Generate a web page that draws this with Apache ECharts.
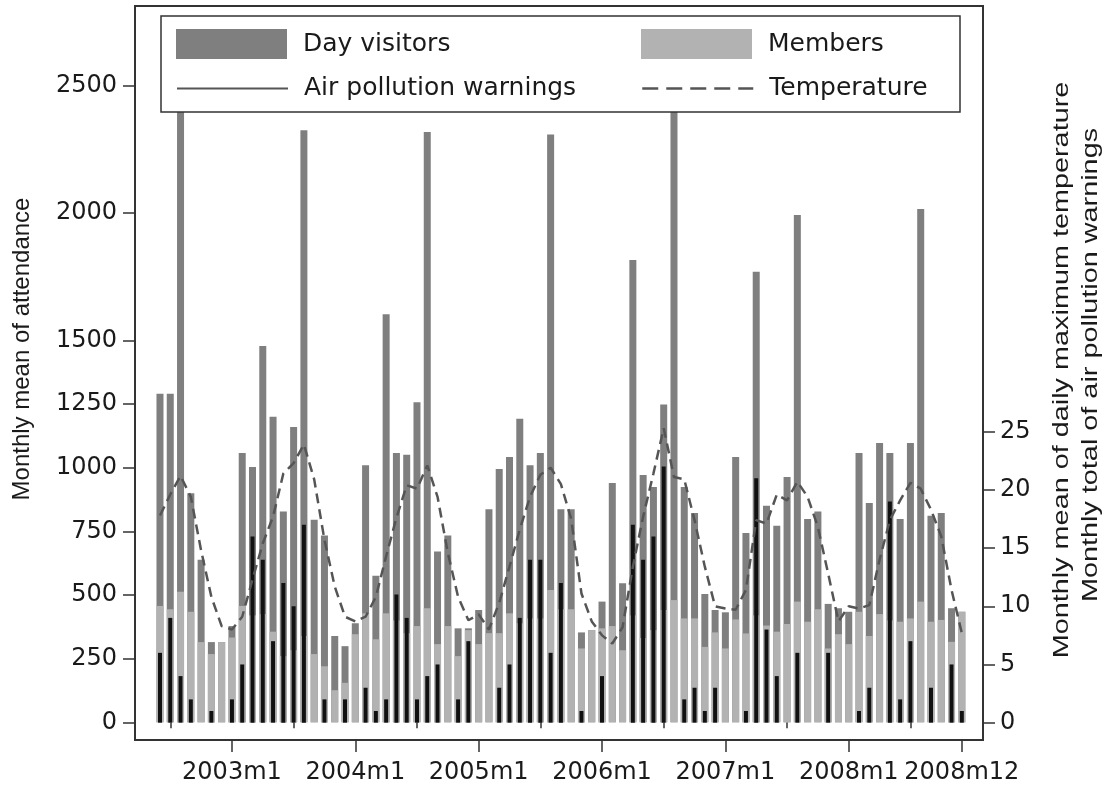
<!DOCTYPE html>
<html>
<head>
<meta charset="utf-8">
<script src="https://cdn.jsdelivr.net/npm/echarts@6.0.0/dist/echarts.min.js"></script>
<style>
  html, body { margin: 0; background: #fff; }
  #chart { width: 1110px; height: 786px; }
</style>
</head>
<body>
<div id="chart"></div>
<script>
// monthly series, index 0 = 2002m6 ... index 78 = 2008m12
const members = [
  457, 444, 513, 434, 315, 268, 315, 333, 457, 420, 425, 356, 260, 283, 339, 268, 220, 126, 155, 346,
  428, 326, 428, 400, 350, 378, 448, 307, 378, 260, 362, 307, 350, 350, 428, 389, 408, 408, 520, 444,
  444, 290, 362, 369, 378, 283, 420, 331, 362, 441, 480, 408, 408, 296, 353, 290, 404, 349, 420, 380,
  356, 386, 474, 395, 444, 290, 346, 307, 434, 339, 425, 400, 395, 408, 474, 395, 402, 316, 434
];
const dayVisitors = [
  833, 846, 2237, 466, 323, 47, 0, 45, 601, 583, 1053, 844, 568, 877, 1986, 527, 514, 213, 144, 43,
  581, 250, 1174, 658, 701, 879, 1870, 364, 356, 109, 7, 134, 487, 645, 614, 803, 601, 650, 1788, 393,
  393, 63, 0, 105, 562, 263, 1396, 640, 562, 807, 2270, 516, 414, 208, 88, 142, 638, 394, 1349, 470,
  416, 577, 1518, 403, 384, 175, 102, 127, 624, 522, 672, 658, 403, 689, 1542, 416, 420, 132, 0
];
const pollutionWarnings = [
  6, 9, 4, 2, 0, 1, 0, 2, 5, 16, 14, 7, 12, 10, 17, 0, 2, 0, 2, 0,
  3, 1, 2, 11, 9, 2, 4, 5, 0, 2, 7, 0, 0, 3, 5, 9, 14, 14, 6, 12,
  0, 1, 0, 4, 0, 0, 17, 14, 16, 22, 0, 2, 3, 1, 3, 0, 0, 1, 21, 8,
  4, 0, 6, 0, 0, 6, 0, 0, 1, 3, 0, 19, 2, 7, 0, 3, 0, 5, 1
];
const temperature = [
  17.8, 19.6, 21.2, 19.4, 14.8, 10.8, 8.3, 8.0, 9.1, 12.3, 15.4, 17.7, 21.4, 22.3, 23.9, 20.9, 15.7, 11.7, 9.1, 8.7,
  9.1, 10.8, 14.3, 17.6, 20.4, 20.1, 22.1, 19.4, 14.6, 10.8, 8.8, 9.3, 8.0, 10.3, 13.4, 16.6, 19.4, 21.3, 21.9, 20.5,
  17.5, 11.1, 8.7, 7.5, 6.8, 8.2, 13.4, 17.7, 21.4, 25.3, 21.1, 20.9, 17.4, 13.4, 10.0, 9.8, 9.7, 11.4, 17.4, 17.1,
  19.6, 19.1, 20.7, 19.4, 16.8, 12.8, 8.7, 10.0, 9.8, 10.1, 14.0, 17.4, 19.1, 20.6, 20.1, 18.3, 16.0, 11.4, 7.7
];

const xTickIndex = [7, 19, 31, 43, 55, 67, 78];
const xTickLabels = ['2003m1', '2004m1', '2005m1', '2006m1', '2007m1', '2008m1', '2008m12'];
const xMinorTickIndex = [1, 13, 25, 37, 49, 61, 73];
const attendanceTicks = [0, 250, 500, 750, 1000, 1250, 1500, 2000, 2500];
const rightTicks = [0, 5, 10, 15, 20, 25];

const FONT = 'DejaVu Sans';
const INK = '#1a1a1a';
const FRAME = '#333';

const toPoints = arr => arr.map((v, i) => [i, v]);
// top of each stacked bar (members at the bottom, day visitors above)
const attendanceTop = members.map((m, i) => m + dayVisitors[i]);

const chart = echarts.init(document.getElementById('chart'), null, { renderer: 'canvas' });

const legendBase = {
  orient: 'horizontal',
  padding: 0,
  itemWidth: 111,
  itemHeight: 30,
  selectedMode: false,
  textStyle: { fontFamily: FONT, fontSize: 25, color: INK, padding: [0, 0, 0, 11] }
};
const legendRow1Text = { fontFamily: FONT, fontSize: 25, color: INK, padding: [6, 0, 0, 11] };

const option = {
  animation: false,
  backgroundColor: '#fff',
  grid: {
    left: 135, right: 127, top: 6, bottom: 46,
    show: true, borderColor: FRAME, borderWidth: 2, backgroundColor: 'transparent'
  },
  xAxis: [
    {
      type: 'value', min: -2.43, max: 80.06, position: 'bottom',
      axisLine: { show: true, onZero: false, lineStyle: { color: FRAME, width: 2 } },
      axisTick: { show: true, customValues: xTickIndex, length: 12, lineStyle: { color: FRAME, width: 1.5 } },
      axisLabel: {
        customValues: xTickIndex, margin: 21,
        fontFamily: FONT, fontSize: 24, color: INK,
        formatter: v => xTickLabels[xTickIndex.indexOf(v)] || ''
      },
      splitLine: { show: false }
    },
    {
      type: 'value', min: -2.43, max: 80.06, position: 'bottom',
      axisLine: { show: false },
      axisTick: { show: true, customValues: xMinorTickIndex, length: 6, lineStyle: { color: FRAME, width: 1.5 } },
      axisLabel: { show: false },
      splitLine: { show: false }
    }
  ],
  yAxis: [
    {
      type: 'value', min: -69.5, max: 2813, position: 'left',
      axisLine: { show: true, onZero: false, lineStyle: { color: FRAME, width: 2 } },
      axisTick: { show: true, customValues: attendanceTicks, length: 12, lineStyle: { color: FRAME, width: 1.5 } },
      axisLabel: {
        customValues: attendanceTicks, margin: 18, fontFamily: FONT, fontSize: 24, color: INK,
        formatter: v => String(v)
      },
      splitLine: { show: false }
    },
    {
      type: 'value', min: -1.49, max: 61.57, position: 'right',
      axisLine: { show: true, onZero: false, lineStyle: { color: FRAME, width: 2 } },
      axisTick: { show: true, customValues: rightTicks, length: 12, lineStyle: { color: FRAME, width: 1.5 } },
      axisLabel: {
        customValues: rightTicks, margin: 17, fontFamily: FONT, fontSize: 24, color: INK,
        formatter: v => String(v)
      },
      splitLine: { show: false }
    }
  ],
  legend: [
    Object.assign({}, legendBase, {
      left: 176, top: 29, textStyle: legendRow1Text, data: [{ name: 'Day visitors', icon: 'rect' }]
    }),
    Object.assign({}, legendBase, {
      left: 641, top: 29, textStyle: legendRow1Text, data: [{ name: 'Members', icon: 'rect' }]
    }),
    Object.assign({}, legendBase, { left: 176, top: 76, data: ['Air pollution warnings'] }),
    Object.assign({}, legendBase, {
      left: 641, top: 76, data: ['Temperature'],
      lineStyle: { type: [16, 8], width: 2.5, color: '#555' }
    })
  ],
  graphic: [
    {
      type: 'rect', z: 3,
      shape: { x: 161, y: 16, width: 799, height: 96 },
      style: { fill: '#fff', stroke: FRAME, lineWidth: 1.5 }
    },
    {
      type: 'text', x: 22, y: 349, rotation: Math.PI / 2,
      style: {
        text: 'Monthly mean of attendance', font: '24px "Liberation Sans"', fill: INK,
        textAlign: 'center', textVerticalAlign: 'middle'
      }
    },
    {
      type: 'text', x: 1062, y: 370, rotation: Math.PI / 2, scaleX: 1.31,
      style: {
        text: 'Monthly mean of daily maximum temperature', font: '22px "Liberation Sans"', fill: INK,
        textAlign: 'center', textVerticalAlign: 'middle'
      }
    },
    {
      type: 'text', x: 1091, y: 365, rotation: Math.PI / 2, scaleX: 1.31,
      style: {
        text: 'Monthly total of air pollution warnings', font: '22px "Liberation Sans"', fill: INK,
        textAlign: 'center', textVerticalAlign: 'middle'
      }
    }
  ],
  series: [
    {
      name: 'Day visitors', type: 'bar', xAxisIndex: 0, yAxisIndex: 0,
      barWidth: 7, barGap: '-100%', itemStyle: { color: '#7f7f7f' }, data: toPoints(attendanceTop)
    },
    {
      name: 'Members', type: 'bar', xAxisIndex: 0, yAxisIndex: 0,
      barWidth: 7, barGap: '-100%', itemStyle: { color: '#b2b2b2' }, data: toPoints(members)
    },
    {
      // spikes, laid out on the second x axis so they sit centred on the bars
      name: 'warnings', type: 'bar', xAxisIndex: 1, yAxisIndex: 1,
      barWidth: 4, itemStyle: { color: '#111' }, data: toPoints(pollutionWarnings)
    },
    {
      // legend entry only: the warnings are drawn as spikes above
      name: 'Air pollution warnings', type: 'line', xAxisIndex: 0, yAxisIndex: 1,
      symbol: 'none', itemStyle: { color: 'rgba(0,0,0,0)' },
      lineStyle: { color: '#555', width: 3 }, data: []
    },
    {
      name: 'Temperature', type: 'line', xAxisIndex: 0, yAxisIndex: 1, z: 3,
      symbol: 'none', itemStyle: { color: 'rgba(0,0,0,0)' },
      lineStyle: { color: '#555', width: 2.5, type: [10, 6] },
      data: toPoints(temperature)
    }
  ]
};

chart.setOption(option);
</script>
</body>
</html>
